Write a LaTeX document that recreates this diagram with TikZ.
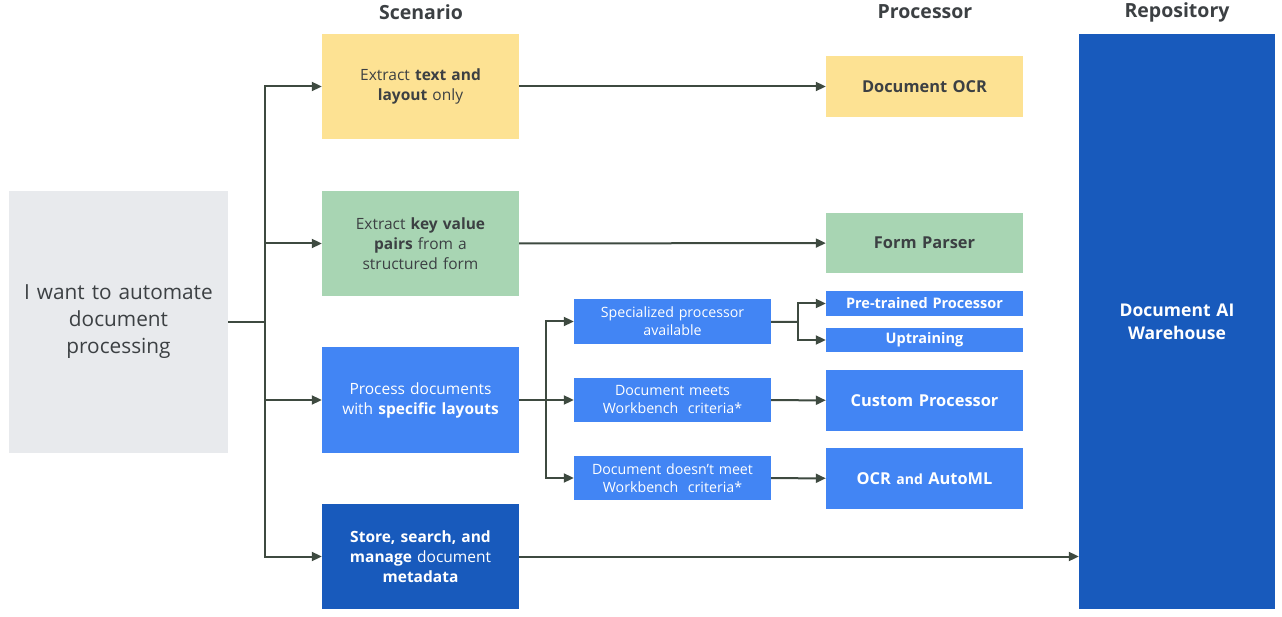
\documentclass[tikz,border=0pt]{standalone}
\usepackage{fontspec}
\setmainfont{Open Sans}
\usetikzlibrary{positioning}
\usetikzlibrary{arrows.meta}
\definecolor{startgray}{HTML}{E8EAED}
\definecolor{txtgray}{HTML}{3C4043}
\definecolor{linegray}{HTML}{3E4A40}
\definecolor{gyellow}{HTML}{FDE293}
\definecolor{ggreen}{HTML}{A8D5B3}
\definecolor{gblue}{HTML}{4285F4}
\definecolor{gdblue}{HTML}{185ABC}
\tikzset{
	box/.style={rectangle, inner sep=2pt, align=center, text width=#1},
	box/.default=190pt,
	yellowbox/.style={box, fill=gyellow, text=txtgray, minimum width=197pt},
	greenbox/.style={box, fill=ggreen, text=txtgray, minimum width=197pt},
	bluebox/.style={box, fill=gblue, text=white, minimum width=197pt},
	dbluebox/.style={box, fill=gdblue, text=white, minimum width=197pt},
	header/.style={text=txtgray, font=\fontsize{19.5}{22}\selectfont\bfseries},
	conn/.style={draw=linegray, line width=2pt},
	arr/.style={conn, -{Triangle[length=10pt,width=9pt]}},
	scen/.style={font=\fontsize{15.5}{20}\selectfont},
	cond/.style={font=\fontsize{14.2}{18}\selectfont},
	proc/.style={font=\fontsize{16.4}{20}\selectfont\bfseries},
}

\begin{document}
\begin{tikzpicture}[x=1pt,y=-1pt]
	\useasboundingbox (0,0) rectangle (1282,617);
	% headers
	\node[header] (hscen) at (421,12) {Scenario};
	\node[header] (hproc) at (925,12) {Processor};
	\node[header] (hrepo) at (1177,12) {Repository};

	% start
	\node[box=210pt, fill=startgray, text=txtgray, minimum width=219pt, minimum height=262pt,
		font=\fontsize{20.8}{27}\selectfont] (start) at (118.5,322) {I want to automate\\document\\processing};

	% scenarios
	\node[yellowbox, minimum height=105pt, scen] (text) at (420.5,86.5)
		{Extract \textbf{text and}\\\textbf{layout} only};
	\node[greenbox, minimum height=105pt, scen] (kv) at (420.5,243.5)
		{Extract \textbf{key value}\\\textbf{pairs} from a\\structured form};
	\node[bluebox, minimum height=106pt, scen] (layout) at (420.5,400)
		{Process documents\\with \textbf{specific layouts}};
	\node[dbluebox, minimum height=105pt, scen] (store) at (420.5,556.5)
		{\textbf{Store, search, and}\\\textbf{manage} document\\\textbf{metadata}};

	% conditions
	\node[bluebox, minimum height=45pt, cond] (spec) at (672.5,321.5)
		{Specialized processor\\available};
	\node[bluebox, minimum height=44pt, cond] (meets) at (672.5,400)
		{Document meets\\Workbench\ \ criteria*};
	\node[bluebox, minimum height=44pt, cond] (notmeet) at (672.5,478)
		{Document doesn’t meet\\Workbench\ \ criteria*};

	% processors
	\node[yellowbox, minimum height=61pt, proc] (ocr) at (924.5,86.5) {Document OCR};
	\node[greenbox, minimum height=60pt, proc] (form) at (924.5,243) {Form Parser};
	\node[bluebox, minimum height=25pt, font=\fontsize{14.5}{16}\selectfont\bfseries] (pre) at (924.5,303.5) {Pre-trained Processor};
	\node[bluebox, minimum height=24pt, font=\fontsize{14.5}{16}\selectfont\bfseries] (upt) at (924.5,340) {Uptraining};
	\node[bluebox, minimum height=61pt, proc] (custom) at (924.5,400.5) {Custom Processor};
	\node[bluebox, minimum height=61pt, proc] (automl) at (924.5,478.5) {OCR {\fontsize{14}{20}\selectfont and} AutoML};

	% repository
	\node[dbluebox, minimum width=196pt, minimum height=575pt, font=\fontsize{17.5}{23}\selectfont\bfseries] (wh) at (1177,321.5)
		{Document AI\\Warehouse};

	% connectors
	\coordinate (trunk) at (265,322);
	\coordinate (branch) at (546,400);
	\coordinate (split) at (798,322);
	\draw[conn] (start) -- (trunk);
	\draw[arr] (trunk) |- (text);
	\draw[arr] (trunk) |- (kv);
	\draw[arr] (trunk) |- (layout);
	\draw[arr] (trunk) |- (store);
	\draw[arr] (layout) -- (meets);
	\draw[arr] (branch) |- (spec);
	\draw[arr] (branch) |- (notmeet);
	\draw[conn] (spec) -- (split);
	\draw[arr] (split) |- (pre);
	\draw[arr] (split) |- (upt);
	\draw[arr] (text) -- (ocr);
	\draw[arr] (kv) -- (form);
	\draw[arr] (meets) -- (custom);
	\draw[arr] (notmeet) -- (automl);
	\draw[arr] (store) -- (store -| wh.west);
\end{tikzpicture}
\end{document}
